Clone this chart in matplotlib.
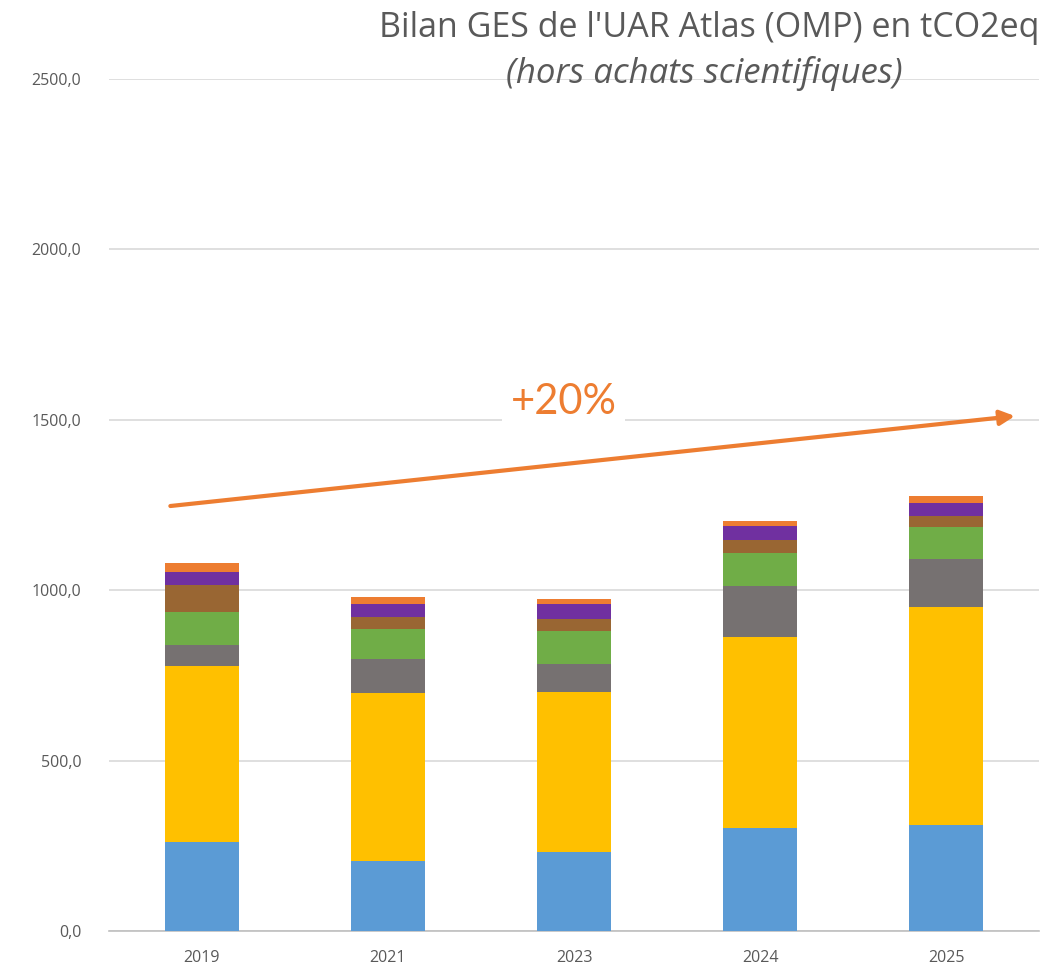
import numpy as np
import matplotlib.pyplot as plt

plt.rcParams['font.family'] = ['Open Sans', 'DejaVu Sans']

years = ['2019', '2021', '2023', '2024', '2025']
blue = [261, 205, 232, 302, 311]
yellow = [517, 492, 469, 562, 640]
grey = [61, 100, 82, 148, 142]
green = [96, 90, 96, 96, 91]
brown = [81, 33, 37, 38, 34]
purple = [38, 39, 43, 43, 38]
orange = [25, 20, 14, 14, 20]

series = [blue, yellow, grey, green, brown, purple, orange]
colors = ['#5B9BD5', '#FFC000', '#767171', '#70AD47', '#996633', '#7030A0', '#ED7D31']

# trend arrow (data coords)
arrow_x = [-0.17, 4.37]
arrow_y = [1247, 1511]

fig = plt.figure(figsize=(10.63, 9.69), dpi=100)
ax = fig.add_axes([0.1025, 0.0392, 0.875, 0.8793])

x = np.arange(len(years))
bottom = np.zeros(len(years))
for vals, c in zip(series, colors):
    ax.bar(x, vals, width=0.40, bottom=bottom, color=c, zorder=3)
    bottom += np.array(vals)

ax.set_xlim(-0.5, 4.5)
ax.set_ylim(0, 2500)
ax.set_yticks(np.arange(0, 2501, 500))
ax.set_yticklabels([f'{v:.1f}'.replace('.', ',') for v in np.arange(0, 2501, 500)])
ax.set_xticks(x)
ax.set_xticklabels(years)
ax.tick_params(length=0, labelsize=11.5, colors='#595959')
ax.tick_params(axis='x', pad=14)
ax.tick_params(axis='y', pad=20)
ax.yaxis.grid(True, color='#D9D9D9', linewidth=1.2, zorder=0)
for s in ['top', 'right', 'left']:
    ax.spines[s].set_visible(False)
ax.spines['bottom'].set_color('#BFBFBF')
ax.spines['bottom'].set_linewidth(1.2)

ax.annotate('', xy=(arrow_x[1], arrow_y[1]), xytext=(arrow_x[0], arrow_y[0]),
            arrowprops=dict(arrowstyle='-|>', color='#ED7D31', lw=3,
                            mutation_scale=22, shrinkA=0, shrinkB=0), zorder=5)
ax.text(1.945, 1551, '+20%', color='#ED7D31', fontsize=30, ha='center', va='center',
        family=['Lato', 'DejaVu Sans'],
        bbox=dict(facecolor='white', edgecolor='none', pad=6), zorder=4)

fig.text(0.978, 0.971, "Bilan GES de l'UAR Atlas (OMP) en tCO2eq", ha='right', va='center',
         fontsize=24.5, color='#595959')
fig.text(0.663, 0.924, '(hors achats scientifiques)', ha='center', va='center',
         fontsize=25, color='#595959', style='italic')

fig.savefig('out.png', dpi=100)
